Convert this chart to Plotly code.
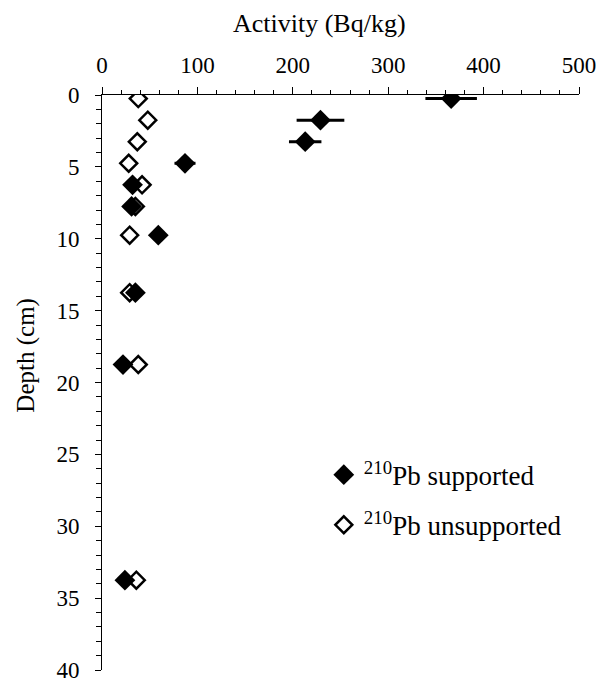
import plotly.graph_objects as go

depth = [0.25, 1.75, 3.25, 4.75, 6.25, 7.75, 9.75, 13.75, 18.75, 33.75]
supported = [366, 229, 213, 87, 32, 31, 59, 35, 22, 24]
supported_err = [27, 25, 17, 11, 8, 5, 0, 0, 0, 0]
unsupported = [38, 48, 37, 28, 42, 35, 29, 29, 38, 36]

x_title = "Activity (Bq/kg)"
y_title = "Depth (cm)"

FONT = "Liberation Serif, Times New Roman, serif"

fig = go.Figure()
fig.add_trace(go.Scatter(
    x=supported, y=depth, mode="markers",
    name="<sup>210</sup>Pb supported",
    marker=dict(symbol="diamond", size=16, color="black"),
    error_x=dict(type="data", array=supported_err, color="black", thickness=3, width=0),
    legendgroup="a",
))
fig.add_trace(go.Scatter(
    x=unsupported, y=depth, mode="markers",
    name="<sup>210</sup>Pb unsupported",
    marker=dict(symbol="diamond-open", size=13, color="black", line=dict(width=2.5, color="black")),
    legendgroup="b",
))

fig.update_layout(
    width=598, height=679,
    margin=dict(l=102, r=19, t=95, b=9),
    paper_bgcolor="white", plot_bgcolor="white",
    font=dict(family=FONT, size=23, color="black"),
    showlegend=True,
    legend=dict(x=0.465, y=0.3815, xanchor="left", yanchor="top",
                bgcolor="rgba(0,0,0,0)", font=dict(size=27, family=FONT),
                tracegroupgap=12, itemwidth=30),
    xaxis=dict(
        side="top", range=[0, 500], tickvals=[0, 100, 200, 300, 400, 500],
        ticks="outside", ticklen=7, tickcolor="black", tickwidth=1,
        minor=dict(dtick=20, ticks="outside", ticklen=4, tickcolor="black"),
        showline=True, linecolor="black", linewidth=1,
        showgrid=False, zeroline=False, automargin=False,
        tickfont=dict(size=23), ticklabelstandoff=5, ticklabeloverflow="allow",
    ),
    yaxis=dict(
        range=[40, 0], tickvals=[0, 5, 10, 15, 20, 25, 30, 35, 40],
        ticks="outside", ticklen=6, tickcolor="black", tickwidth=1,
        minor=dict(dtick=1, ticks="outside", ticklen=5, tickcolor="black"),
        showline=True, linecolor="black", linewidth=1,
        showgrid=False, zeroline=False, automargin=False,
        tickfont=dict(size=23), ticklabelstandoff=11, ticklabeloverflow="allow",
    ),
    annotations=[
        dict(text=x_title, xref="paper", yref="paper", x=0.457, y=1.1235,
             xanchor="center", yanchor="middle", showarrow=False,
             font=dict(size=26, family=FONT)),
        dict(text=y_title, xref="paper", yref="paper", x=-0.159, y=0.547,
             xanchor="center", yanchor="middle", showarrow=False, textangle=-90,
             font=dict(size=25, family=FONT)),
    ],
)

fig.write_html("out.html", config={"displayModeBar": False},
               post_script="document.body.style.margin='0';")
